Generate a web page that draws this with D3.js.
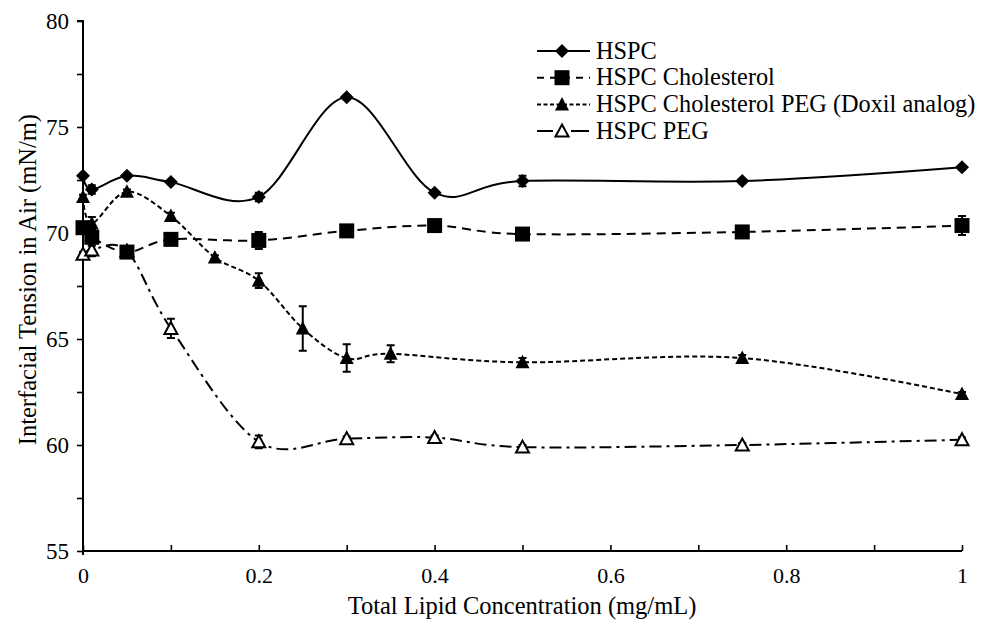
<!DOCTYPE html>
<html>
<head>
<meta charset="utf-8">
<script src="https://cdn.jsdelivr.net/npm/d3@7"></script>
<style>
  html, body { margin: 0; padding: 0; background: #fff; }
  svg { display: block; }
  svg text { font-family: "Liberation Serif", "Tinos", "Times New Roman", Times, "DejaVu Serif", serif !important; fill: #000; }
</style>
</head>
<body>
<svg id="chart" width="990" height="623"></svg>
<script>
// ---- data ----
const seriesNames = ["HSPC", "HSPC Cholesterol", "HSPC Cholesterol PEG (Doxil analog)", "HSPC PEG"];

const xHSPC = [0, 0.01, 0.05, 0.1, 0.2, 0.3, 0.4, 0.5, 0.75, 1];
const yHSPC = [72.7, 72.05, 72.7, 72.4, 71.7, 76.4, 71.9, 72.45, 72.45, 73.1];
const eHSPC = [0.1, 0.2, 0.1, 0.1, 0.2, 0.1, 0.1, 0.25, 0.1, 0.1];

const xChol = [0, 0.01, 0.05, 0.1, 0.2, 0.3, 0.4, 0.5, 0.75, 1];
const yChol = [70.25, 69.8, 69.1, 69.7, 69.65, 70.1, 70.35, 69.95, 70.05, 70.35];
const eChol = [0.1, 0.4, 0.1, 0.1, 0.4, 0.1, 0.1, 0.1, 0.1, 0.45];

const xDoxil = [0, 0.01, 0.05, 0.1, 0.15, 0.2, 0.25, 0.3, 0.35, 0.5, 0.75, 1];
const yDoxil = [71.7, 70.45, 71.95, 70.8, 68.85, 67.75, 65.5, 64.1, 64.3, 63.9, 64.1, 62.4];
const eDoxil = [0.1, 0.3, 0.1, 0.15, 0.1, 0.35, 1.05, 0.65, 0.4, 0.2, 0.15, 0.1];

const xPEG = [0, 0.01, 0.05, 0.1, 0.2, 0.3, 0.4, 0.5, 0.75, 1];
const yPEG = [69.0, 69.2, 69.15, 65.5, 60.15, 60.3, 60.35, 59.9, 60.0, 60.25];
const ePEG = [0.1, 0.3, 0.1, 0.45, 0.3, 0.1, 0.1, 0.1, 0.1, 0.1];

const xTicks = [0, 0.2, 0.4, 0.6, 0.8, 1];
const xTickLabels = ["0", "0.2", "0.4", "0.6", "0.8", "1"];
const yTicks = [55, 60, 65, 70, 75, 80];
const xTitle = "Total Lipid Concentration (mg/mL)";
const yTitle = "Interfacial Tension in Air (mN/m)";

// ---- layout ----
const FONT = '"Liberation Serif", "Tinos", "Times New Roman", Times, "DejaVu Serif", serif';
const svg = d3.select("#chart");
const x = d3.scaleLinear().domain([0, 1]).range([83, 962]);
const y = d3.scaleLinear().domain([55, 80]).range([551, 21]);

// axes
const yAxis = d3.axisLeft(y).tickValues(d3.range(55, 80.01, 2.5)).tickSize(6)
  .tickFormat(d => yTicks.includes(d) ? String(d) : "");
const gy = svg.append("g").attr("transform", `translate(${x(0)},0)`).call(yAxis).attr("font-family", FONT);
gy.select(".domain").attr("stroke", "#000").attr("stroke-width", 2).attr("d", `M-6,${y(80)}H0V${y(55) + 4}`);
gy.selectAll(".tick line").attr("stroke", "#000").attr("stroke-width", 1.6);
gy.selectAll(".tick text").attr("font-size", 23).attr("x", -14).attr("fill", "#000");

const xAxis = d3.axisBottom(x).tickValues(d3.range(0, 1.001, 0.1)).tickSize(-6)
  .tickFormat(d => { const i = xTicks.findIndex(t => Math.abs(t - d) < 1e-9); return i >= 0 ? xTickLabels[i] : ""; });
const gx = svg.append("g").attr("transform", `translate(0,${y(55)})`).call(xAxis).attr("font-family", FONT);
gx.select(".domain").attr("stroke", "#000").attr("stroke-width", 2).attr("d", `M${x(0)},0H${x(1)}`);
gx.selectAll(".tick line").attr("stroke", "#000").attr("stroke-width", 1.6);
gx.selectAll(".tick text").attr("font-size", 22).attr("y", 16).attr("fill", "#000");

svg.append("text").attr("x", 522).attr("y", 614).attr("text-anchor", "middle")
  .attr("font-size", 24.5).text(xTitle);
svg.append("text").attr("transform", `translate(36,${y(67.8)}) rotate(-90)`).attr("text-anchor", "middle")
  .attr("font-size", 24.5).text(yTitle);

// ---- series ----
const series = [
  { name: seriesNames[3], xs: xPEG, ys: yPEG, es: ePEG, dash: "12,5,3,5", marker: "openTri" },
  { name: seriesNames[0], xs: xHSPC, ys: yHSPC, es: eHSPC, dash: null, marker: "diamond" },
  { name: seriesNames[2], xs: xDoxil, ys: yDoxil, es: eDoxil, dash: "5,3", marker: "tri" },
  { name: seriesNames[1], xs: xChol, ys: yChol, es: eChol, dash: "9,6", marker: "square" },
];

const line = d3.line().x(d => x(d[0])).y(d => y(d[1])).curve(d3.curveCatmullRom.alpha(0));

function drawMarker(g, type, cx, cy) {
  if (type === "diamond") {
    g.append("path").attr("d", `M${cx},${cy - 7}L${cx + 7},${cy}L${cx},${cy + 7}L${cx - 7},${cy}Z`).attr("fill", "#000");
  } else if (type === "square") {
    g.append("rect").attr("x", cx - 7.5).attr("y", cy - 7.5).attr("width", 15).attr("height", 15).attr("fill", "#000");
  } else if (type === "tri") {
    g.append("path").attr("d", `M${cx},${cy - 7.5}L${cx + 7},${cy + 6}L${cx - 7},${cy + 6}Z`).attr("fill", "#000");
  } else if (type === "openTri") {
    g.append("path").attr("d", `M${cx},${cy - 6.5}L${cx + 6.5},${cy + 5.5}L${cx - 6.5},${cy + 5.5}Z`)
      .attr("fill", "#fff").attr("stroke", "#000").attr("stroke-width", 2);
  }
}

const linesG = svg.append("g");
const markersG = svg.append("g");
series.forEach(s => {
  const pts = s.xs.map((v, i) => [v, s.ys[i]]);
  linesG.append("path").datum(pts).attr("d", line).attr("fill", "none").attr("stroke", "#000")
    .attr("stroke-width", 2).attr("stroke-dasharray", s.dash);
});
series.forEach(s => {
  const g = markersG.append("g");
  s.xs.forEach((v, i) => {
    const cx = x(v), lo = y(s.ys[i] - s.es[i]), hi = y(s.ys[i] + s.es[i]);
    g.append("path").attr("d", `M${cx},${lo}V${hi}M${cx - 4},${lo}H${cx + 4}M${cx - 4},${hi}H${cx + 4}`)
      .attr("stroke", "#000").attr("stroke-width", 2).attr("fill", "none");
    drawMarker(g, s.marker, cx, y(s.ys[i]));
  });
});

// ---- legend ----
const legendOrder = [
  { name: seriesNames[0], dash: null, marker: "diamond" },
  { name: seriesNames[1], dash: "7,6", marker: "square" },
  { name: seriesNames[2], dash: "4,2.5", marker: "tri" },
  { name: seriesNames[3], dash: null, marker: "openTri" },
];
const lg = svg.append("g");
legendOrder.forEach((d, i) => {
  const cy = 51 + i * 26.7;
  if (d.marker === "openTri") {
    lg.append("path").attr("d", `M537,${cy}H553M571,${cy}H589`).attr("stroke", "#000").attr("stroke-width", 2);
  } else {
    lg.append("line").attr("x1", 537).attr("x2", 590).attr("y1", cy).attr("y2", cy)
      .attr("stroke", "#000").attr("stroke-width", 2).attr("stroke-dasharray", d.dash);
  }
  drawMarker(lg, d.marker, 562, cy);
  lg.append("text").attr("x", 596).attr("y", cy + 7.5).attr("font-size", 24.3).text(d.name);
});
</script>
</body>
</html>
